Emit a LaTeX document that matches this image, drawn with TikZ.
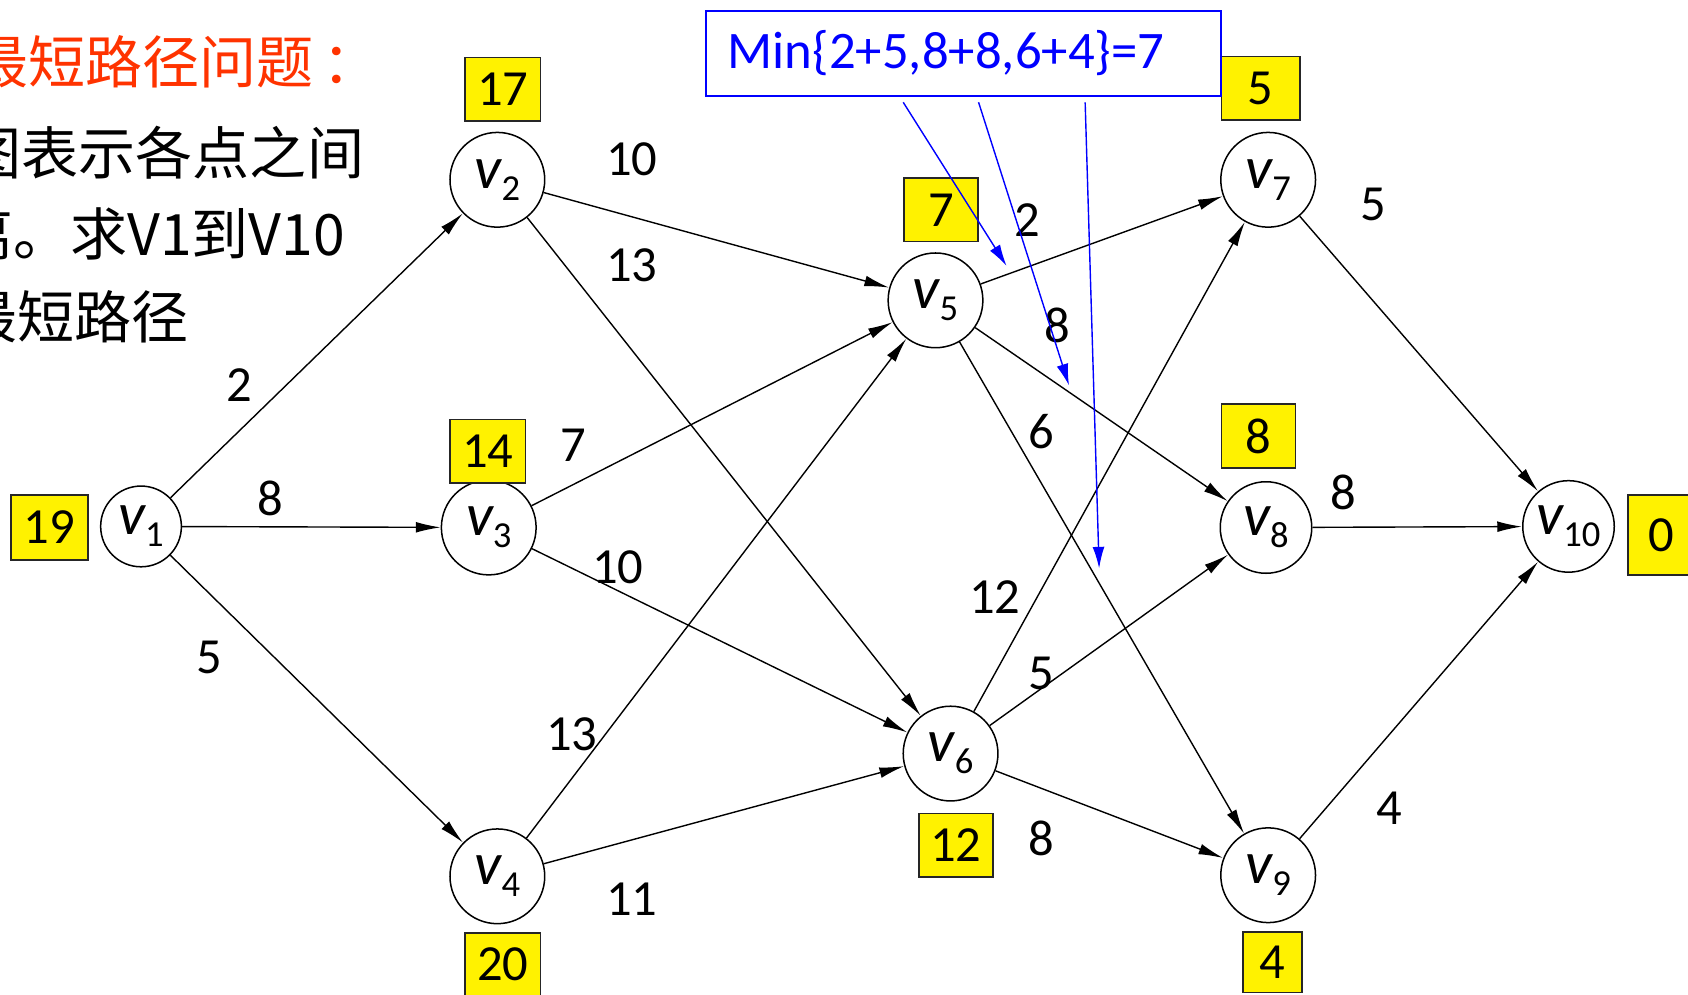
\documentclass[tikz,border=0pt]{standalone}
\usepackage{fontspec}
\setmainfont{Carlito}
\newfontfamily\cjk{Noto Sans CJK SC}
\usetikzlibrary{arrows.meta}
\definecolor{titlered}{RGB}{255,51,0}
\definecolor{notblue}{RGB}{0,0,255}
\newcommand\vlab[1]{{\itshape v}\raisebox{-11pt}{\fontsize{34}{34}\selectfont #1}}
\begin{document}
\begin{tikzpicture}[x=1pt,y=-1pt,
  vert/.style={circle, draw, line width=1.4pt, fill=white, minimum size=88pt, inner sep=0pt,
    font=\fontsize{56}{56}\selectfont},
  score/.style={draw=black!85, fill=yellow, line width=1.5pt, minimum width=70pt,
    minimum height=59pt, inner sep=0pt, font=\fontsize{47}{47}\selectfont},
  wt/.style={inner sep=0pt, font=\fontsize{47}{47}\selectfont},
  edge/.style={line width=1.3pt, -{Latex[length=23pt,width=10pt]}},
  hint/.style={notblue, line width=1.3pt, -{Latex[length=20pt,width=11pt]}},
  txt/.style={anchor=base west, inner sep=0pt, font=\cjk\fontsize{53}{53}\selectfont}]
\clip (0,0) rectangle (1568,924);

% problem statement
\node[txt, text=titlered] (t1) at (-27,78) {最短路径问题\hspace{8pt}：};
\node[txt] (t2) at (-33,162) {图表示各点之间};
\node[txt] (t3) at (-41,237) {离。求V1到V10};
\node[txt] (t4) at (-37,314) {最短路径};

% vertices
\node[vert, minimum size=75pt] (v1) at (131,489) {\vlab{1}};
\node[vert] (v2) at (462,167) {\vlab{2}};
\node[vert] (v3) at (454,490) {\vlab{3}};
\node[vert] (v4) at (462,814) {\vlab{4}};
\node[vert] (v5) at (869,279) {\vlab{5}};
\node[vert] (v6) at (883,700) {\vlab{6}};
\node[vert] (v7) at (1178,167) {\vlab{7}};
\node[vert, minimum size=85pt] (v8) at (1176,490) {\vlab{8}};
\node[vert] (v9) at (1178,813) {\vlab{9}};
\node[vert, minimum size=85pt] (v10) at (1457,489) {\vlab{10}};

% arcs
\draw[edge] (v1) -- (v2);
\draw[edge] (v1) -- (v3);
\draw[edge] (v1) -- (v4);
\draw[edge] (v2) -- (v5);
\draw[edge] (v2) -- (v6);
\draw[edge] (v3) -- (v5);
\draw[edge] (v3) -- (v6);
\draw[edge] (v4) -- (v5);
\draw[edge] (v4) -- (v6);
\draw[edge] (v5) -- (v7);
\draw[edge] (v5) -- (v8);
\draw[edge] (v5) -- (v9);
\draw[edge] (v6) -- (v7);
\draw[edge] (v6) -- (v8);
\draw[edge] (v6) -- (v9);
\draw[edge] (v7) -- (v10);
\draw[edge] (v8) -- (v10);
\draw[edge] (v9) -- (v10);

% arc lengths
\node[wt] (w12) at (222,358) {2};
\node[wt] (w13) at (251,463) {8};
\node[wt] (w14) at (194,611) {5};
\node[wt] (w25) at (587,148) {10};
\node[wt] (w26) at (587,246) {13};
\node[wt] (w35) at (533,414) {7};
\node[wt] (w36) at (574,527) {10};
\node[wt] (w45) at (531,682) {13};
\node[wt] (w46) at (587,835) {11};
\node[wt] (w57) at (954,204) {2};
\node[wt] (w58) at (982,302) {8};
\node[wt] (w59) at (967,401) {6};
\node[wt] (w67) at (924,555) {12};
\node[wt] (w68) at (967,626) {5};
\node[wt] (w69) at (967,779) {8};
\node[wt] (w710) at (1276,190) {5};
\node[wt] (w810) at (1248,457) {8};
\node[wt] (w910) at (1291,751) {4};

% distances to v10
\node[score, minimum width=72pt, minimum height=60pt] (s1) at (46,490) {19};
\node[score] (s2) at (467,83) {17};
\node[score] (s3) at (453,419) {14};
\node[score] (s4) at (467,896) {20};
\node[score, minimum width=69pt] (s5) at (874,195) {7};
\node[score, minimum width=69pt] (s6) at (888,785) {12};
\node[score, minimum width=73pt] (s7) at (1171,82) {5};
\node[score, minimum width=69pt] (s8) at (1169,405) {8};
\node[score, minimum width=55pt, minimum height=56pt] (s9) at (1182,894) {4};
\node[score, minimum width=62pt, minimum height=74pt] (s10) at (1543,497) {0};

% computation note for v5
\node[draw=notblue, line width=1.5pt, fill=white, minimum height=79pt, inner xsep=20pt,
  text width=438pt, align=left, text=notblue, font=\fontsize{49}{49}\selectfont]
  (note) at (895,49.5) {Min\{2+5,8+8,6+4\}=7};
\coordinate (a1) at (839,95);
\coordinate (a2) at (909,95);
\coordinate (a3) at (1008,95);
\coordinate (b1) at (935,247);
\coordinate (b2) at (993,358);
\coordinate (b3) at (1021,528);
\draw[hint] (a1) -- (b1);
\draw[hint] (a2) -- (b2);
\draw[hint] (a3) -- (b3);
\end{tikzpicture}
\end{document}
